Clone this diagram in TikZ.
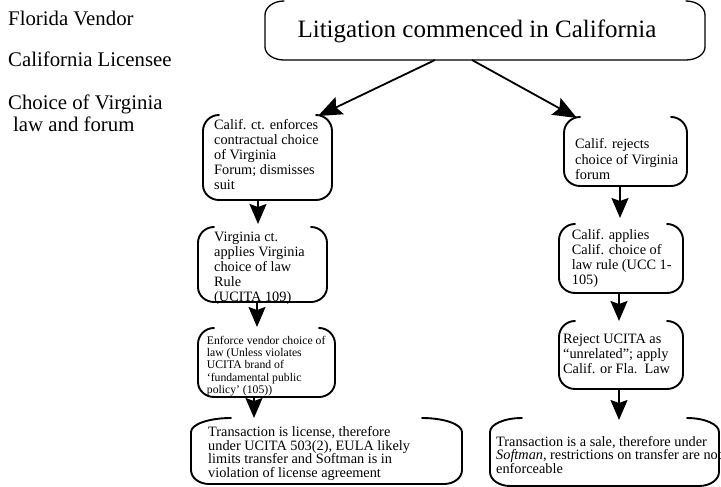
\documentclass[tikz,border=0pt]{standalone}
\usepackage{fontspec}
\setmainfont{Liberation Serif}
\usetikzlibrary{arrows.meta}
\newcommand\lns[1]{\begin{tabular}[t]{@{}l@{}}#1\end{tabular}}
% open-topped rounded box drawn round a named node
% #1 node, #2 top rx, #3 top ry, #4 bottom rx, #5 bottom ry, #6 style
\newcommand\obox[6]{%
  \draw[#6] ([xshift=#2]#1.north west)
    arc[start angle=90,end angle=180,x radius=#2,y radius=#3]
    -- ([yshift=#5]#1.south west)
    arc[start angle=180,end angle=270,x radius=#4,y radius=#5]
    -- ([xshift=-#4]#1.south east)
    arc[start angle=270,end angle=360,x radius=#4,y radius=#5]
    -- ([yshift=-#3]#1.north east)
    arc[start angle=0,end angle=90,x radius=#2,y radius=#3];
}
\tikzset{
  boxn/.style={draw=none, inner sep=0pt, outer sep=0pt},
  boxline/.style={line width=1.9pt, line cap=round},
  litline/.style={line width=1.3pt, line cap=round},
  txt/.style={inner sep=0pt, anchor=base west},
  arr/.style={line width=1.6pt, -{Stealth[length=20pt,width=17pt,inset=3pt]}},
  darr/.style={line width=1.8pt, -{Stealth[length=24pt,width=19pt,inset=4pt]}},
  lab/.style={font=\fontsize{20.8pt}{21.7pt}\selectfont},
  norm/.style={font=\fontsize{14.3pt}{15pt}\selectfont},
}
\begin{document}
\begin{tikzpicture}[x=1pt,y=-1pt]
\useasboundingbox (0,0) rectangle (721,487);

% left labels
\node[txt, lab] (vendor) at (8,26) {Florida Vendor};
\node[txt, lab] (licensee) at (8,66.7) {California Licensee};
\node[txt, lab] (choice) at (8,110) {\lns{Choice of Virginia\\\hspace*{5pt}law and forum}};

% top box
\node[boxn, minimum width=440pt, minimum height=59pt] (lit) at (485,30.5) {};
\node[inner sep=0pt, anchor=base, font=\fontsize{25pt}{30pt}\selectfont] (littxt) at (477,38) {Litigation commenced in California};
\obox{lit}{19pt}{14pt}{19pt}{13pt}{litline}

% left column
\node[boxn, minimum width=129pt, minimum height=85pt] (A) at (267.5,157.5) {};
\node[txt, norm] (Atxt) at (214,129.5) {\lns{Calif. ct. enforces\\contractual choice\\of Virginia\\Forum; dismisses\\suit}};
\obox{A}{16pt}{16pt}{16pt}{15pt}{boxline}

\node[boxn, minimum width=129pt, minimum height=75pt] (B) at (262.5,264.5) {};
\node[txt, norm] (Btxt) at (214,241) {\lns{Virginia ct.\\applies Virginia\\choice of law\\Rule\\(UCITA 109)}};
\obox{B}{16pt}{16pt}{16pt}{15pt}{boxline}

\node[boxn, minimum width=137pt, minimum height=69pt] (C) at (266.5,362.5) {};
\node[txt, font=\fontsize{11.7pt}{12.2pt}\selectfont] (Ctxt) at (206.7,344.5) {\lns{Enforce vendor choice of\\law (Unless violates\\UCITA brand of\\‘fundamental public\\policy’ (105))}};
\obox{C}{16pt}{16pt}{16pt}{15pt}{boxline}

\node[boxn, minimum width=271pt, minimum height=66pt] (D) at (326.5,451) {};
\node[txt, font=\fontsize{14.3pt}{12.5pt}\selectfont] (Dtxt) at (208,436.5) {\lns{Transaction is license, therefore\\under UCITA 503(2), EULA likely\\limits transfer and Softman is in\\violation of license agreement}};
\obox{D}{40pt}{14pt}{18pt}{14pt}{boxline}

% right column
\node[boxn, minimum width=123pt, minimum height=69pt] (E) at (625.5,151.5) {};
\node[txt, font=\fontsize{14.3pt}{15.3pt}\selectfont] (Etxt) at (575,149) {\lns{Calif. rejects\\choice of Virginia\\forum}};
\obox{E}{16pt}{16pt}{16pt}{15pt}{boxline}

\node[boxn, minimum width=124pt, minimum height=69pt] (F) at (621,258.5) {};
\node[txt, norm] (Ftxt) at (571.7,239.5) {\lns{Calif. applies\\Calif. choice of\\law rule (UCC 1-\\105)}};
\obox{F}{16pt}{16pt}{16pt}{15pt}{boxline}

\node[boxn, minimum width=124pt, minimum height=68pt] (G) at (621,355) {};
\node[txt, norm] (Gtxt) at (563,343) {\lns{Reject UCITA as\\“unrelated”; apply\\Calif. or Fla.\ \ Law}};
\obox{G}{16pt}{16pt}{16pt}{15pt}{boxline}

\node[boxn, minimum width=229pt, minimum height=68pt] (H) at (604.5,452) {};
\node[txt, font=\fontsize{14.3pt}{11.7pt}\selectfont] (Htxt) at (496,446) {\lns{Transaction is a sale, therefore under\\\textit{Softman}, restrictions on transfer are not\\enforceable}};
\obox{H}{32pt}{14pt}{20pt}{14pt}{boxline}

% connectors
\draw[darr] ([xshift=-50pt]lit.south) -- ([xshift=-14pt,yshift=-1pt]A.north east);
\draw[darr] ([xshift=-13pt]lit.south) -- ([xshift=13pt,yshift=-1pt]E.north west);
\draw[arr] ([xshift=-9.5pt]A.south) -- ([xshift=-4.5pt,yshift=3pt]B.north);
\draw[arr] ([xshift=-5.5pt]B.south) -- ([xshift=-9.5pt,yshift=1pt]C.north);
\draw[arr] ([xshift=-12.5pt]C.south) -- ([xshift=-72.5pt]D.north);
\draw[arr] ([xshift=-5.5pt]E.south) -- ([xshift=-1pt,yshift=6pt]F.north);
\draw[arr] ([xshift=-2pt]F.south) -- ([xshift=-2pt]G.north);
\draw[arr] ([xshift=-2pt]G.south) -- ([xshift=14.5pt,yshift=-2pt]H.north);
\end{tikzpicture}
\end{document}
